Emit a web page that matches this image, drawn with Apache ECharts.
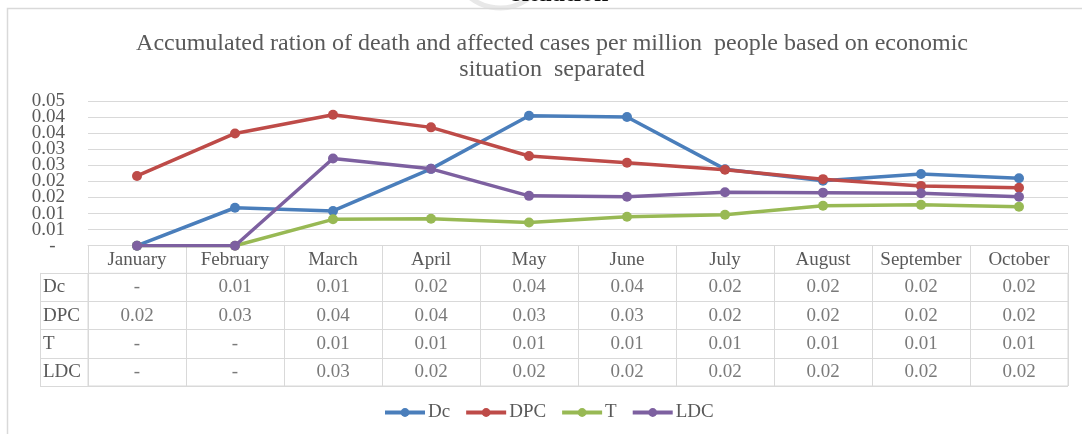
<!DOCTYPE html>
<html>
<head>
<meta charset="utf-8">
<script src="https://cdn.jsdelivr.net/npm/echarts@6/dist/echarts.min.js"></script>
<style>
  html, body { margin: 0; padding: 0; background: #ffffff; }
  #chart { width: 1082px; height: 434px; }
</style>
</head>
<body>
<div id="chart"></div>
<script>
// Months shown along the category axis and as the table header
const months = ['January', 'February', 'March', 'April', 'May', 'June', 'July', 'August', 'September', 'October'];

// Accumulated ratios per million people, by group
const dc  = [0, 0.0118, 0.0108, 0.0239, 0.0404, 0.0400, 0.0238, 0.0202, 0.0223, 0.0210];
const dpc = [0.0217, 0.0349, 0.0407, 0.0368, 0.0279, 0.0258, 0.0236, 0.0207, 0.0186, 0.0180];
const t   = [0, 0, 0.0082, 0.0084, 0.0072, 0.0090, 0.0096, 0.0124, 0.0127, 0.0121];
const ldc = [0, 0, 0.0271, 0.0239, 0.0155, 0.0152, 0.0166, 0.0165, 0.0163, 0.0152];

const seriesNames = ['Dc', 'DPC', 'T', 'LDC'];
const seriesValues = [dc, dpc, t, ldc];
const seriesColors = ['#4A7EBB', '#BE4B48', '#98B954', '#7D60A0'];

// Value axis range and step
const yMin = 0;
const yMax = 0.045;
const yStep = 0.005;

const FONT = "'Liberation Serif', 'Times New Roman', serif";
const TEXT = '#595959';
const RULE = '#D9D9D9';

// Two-decimal number format where zero prints as a dash
function fmt(v) {
  const r = Math.round(v * 100 + 1e-9) / 100;
  return r === 0 ? '-' : r.toFixed(2);
}
function yLabel(v) {
  const s = fmt(v);
  return s === '-' ? '-  ' : s;
}

// Table cells: one point per (month, row), labelled with the row's value
const tableCells = [];
seriesValues.forEach(function (vals, r) {
  vals.forEach(function (v, i) {
    tableCells.push([months[i], seriesNames[r], v]);
  });
});

const chart = echarts.init(document.getElementById('chart'), null, { renderer: 'canvas' });

const lineSeries = seriesNames.map(function (name, k) {
  return {
    name: name,
    type: 'line',
    xAxisIndex: 0,
    yAxisIndex: 0,
    data: seriesValues[k],
    symbol: 'circle',
    symbolSize: 10,
    color: seriesColors[k],
    lineStyle: { width: 3.5, color: seriesColors[k] },
    itemStyle: { color: seriesColors[k] },
    z: 3 + k,
    animation: false
  };
});

const yLabelStyle = {
  margin: 23,
  fontFamily: FONT,
  fontSize: 19,
  color: TEXT,
  formatter: yLabel
};

const option = {
  backgroundColor: '#ffffff',
  animation: false,
  textStyle: { fontFamily: FONT },
  title: {
    text: 'Accumulated ration of death and affected cases per million  people based on economic\nsituation  separated',
    left: 547,
    top: 26,
    textAlign: 'center',
    textStyle: {
      fontFamily: FONT,
      fontSize: 24,
      fontWeight: 'normal',
      color: TEXT,
      lineHeight: 26
    }
  },
  legend: {
    data: seriesNames,
    left: 383,
    top: 403,
    padding: 0,
    itemWidth: 40,
    itemHeight: 11,
    itemGap: 14,
    lineStyle: { width: 4 },
    textStyle: { fontFamily: FONT, fontSize: 19, color: TEXT, padding: [0, 0, 0, -2] },
    selectedMode: false
  },
  grid: [
    { left: 88, right: 14, top: 101, bottom: 188.3 },
    { left: 88, right: 14, top: 273.3, bottom: 48, show: true, borderColor: RULE, borderWidth: 1 }
  ],
  xAxis: [
    {
      gridIndex: 0,
      type: 'category',
      data: months,
      boundaryGap: true,
      axisLine: { show: true, lineStyle: { color: RULE, width: 1 } },
      axisTick: { show: true, length: 27.6, lineStyle: { color: RULE, width: 1 } },
      axisLabel: { show: true, interval: 0, margin: 5, fontFamily: FONT, fontSize: 19, color: TEXT, lineHeight: 19 },
      splitLine: { show: false }
    },
    {
      gridIndex: 1,
      type: 'category',
      data: months,
      boundaryGap: true,
      axisLine: { show: false },
      axisTick: { show: false },
      axisLabel: { show: false },
      splitLine: { show: true, interval: 0, lineStyle: { color: RULE, width: 1 } }
    }
  ],
  yAxis: [
    {
      // inner ticks and gridlines
      gridIndex: 0,
      type: 'value',
      min: yMin,
      max: yMax,
      interval: yStep,
      axisLine: { show: false },
      axisTick: { show: false },
      axisLabel: Object.assign({ showMinLabel: false, showMaxLabel: false }, yLabelStyle),
      splitLine: { show: true, lineStyle: { color: RULE, width: 1 } }
    },
    {
      gridIndex: 1,
      type: 'category',
      data: seriesNames,
      inverse: true,
      boundaryGap: true,
      axisLine: { show: true, lineStyle: { color: RULE, width: 1 } },
      axisTick: { show: true, length: 48, interval: 0, lineStyle: { color: RULE, width: 1 } },
      axisLabel: { show: true, interval: 0, align: 'left', margin: 45, fontFamily: FONT, fontSize: 19, color: TEXT },
      splitLine: { show: true, interval: 0, lineStyle: { color: RULE, width: 1 } }
    },
    {
      // left edge of the row-name column
      gridIndex: 1,
      type: 'category',
      data: seriesNames,
      inverse: true,
      position: 'left',
      offset: 48,
      axisLine: { show: true, lineStyle: { color: RULE, width: 1 } },
      axisTick: { show: false },
      axisLabel: { show: false },
      splitLine: { show: false }
    },
    {
      // end labels of the value range
      gridIndex: 0,
      type: 'value',
      position: 'left',
      min: yMin,
      max: yMax,
      interval: yMax - yMin,
      axisLine: { show: false },
      axisTick: { show: false },
      axisLabel: Object.assign({ showMinLabel: true, showMaxLabel: true }, yLabelStyle),
      splitLine: { show: false }
    }
  ],
  graphic: [
    {
      type: 'rect',
      silent: true,
      z: -10,
      shape: { x: 7.5, y: 8.5, width: 1200, height: 600 },
      style: { fill: 'none', stroke: RULE, lineWidth: 1.5 }
    },
    {
      type: 'arc',
      silent: true,
      z: -11,
      shape: { cx: 500, cy: -40, r: 48, startAngle: 0.2, endAngle: 2.9 },
      style: { fill: 'none', stroke: '#E8E8E8', lineWidth: 5 }
    },
    {
      type: 'text',
      silent: true,
      z: -9,
      x: 560,
      y: 7,
      style: {
        text: 'situation',
        align: 'center',
        verticalAlign: 'bottom',
        font: "bold 26px 'Liberation Serif', 'Times New Roman', serif",
        fill: '#111111'
      }
    }
  ],
  series: lineSeries.concat([
    {
      name: 'table',
      type: 'scatter',
      xAxisIndex: 1,
      yAxisIndex: 1,
      data: tableCells,
      symbolSize: 1,
      itemStyle: { color: 'rgba(0,0,0,0)' },
      silent: true,
      label: {
        show: true,
        position: 'inside',
        fontFamily: FONT,
        fontSize: 19,
        color: TEXT,
        formatter: function (p) { return fmt(p.data[2]); }
      },
      animation: false
    }
  ])
};

chart.setOption(option);
</script>
</body>
</html>
